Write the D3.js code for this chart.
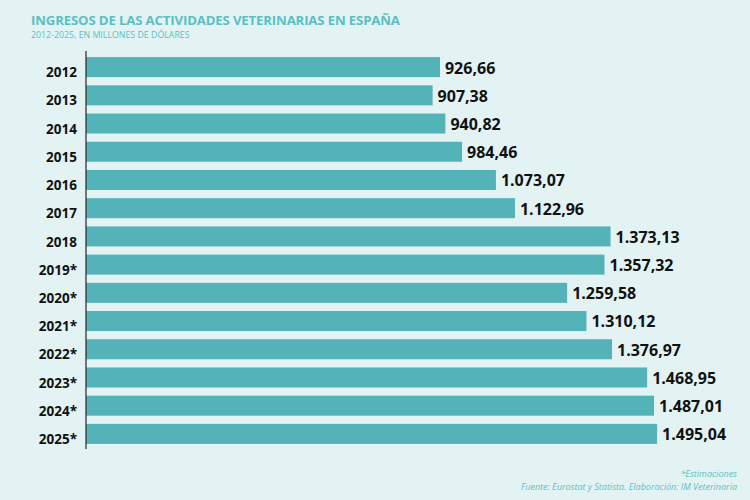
<!DOCTYPE html>
<html>
<head>
<meta charset="utf-8">
<script src="https://cdn.jsdelivr.net/npm/d3@7"></script>
<style>
  body { margin: 0; background: #e3f3f4; }
  text { font-family: "Open Sans", sans-serif; }
</style>
</head>
<body>
<div id="chart"></div>
<script>
// chart data
const years = ["2012", "2013", "2014", "2015", "2016", "2017", "2018",
    "2019*", "2020*", "2021*", "2022*", "2023*", "2024*", "2025*"];
const ingresos = [926.66, 907.38, 940.82, 984.46, 1073.07, 1122.96, 1373.13,
    1357.32, 1259.58, 1310.12, 1376.97, 1468.95, 1487.01, 1495.04];

const width = 750, height = 500;
const teal = "#5bbfc3";
const barColor = "#53b3b9";

const svg = d3.select("#chart").append("svg")
    .attr("width", width)
    .attr("height", height)
    .style("background", "#e3f3f4");

// title
svg.append("text")
    .attr("x", 31).attr("y", 24.5)
    .style("font-size", "13.2px").style("font-weight", "700")
    .style("letter-spacing", "-0.15px")
    .style("fill", teal)
    .text("INGRESOS DE LAS ACTIVIDADES VETERINARIAS EN ESPAÑA");
svg.append("text")
    .attr("x", 31).attr("y", 37.5)
    .style("font-size", "8.8px")
    .style("fill", teal)
    .text("2012-2025, EN MILLONES DE DÓLARES");

// scales
let x = d3.scaleLinear().domain([0, 1000]).range([86, 468]);
let y = d3.scaleBand().domain(years).range([53, 448])
    .paddingInner(0.29).paddingOuter(0.145);

// bars
svg.selectAll(".bar")
    .data(years)
    .enter().append("rect")
    .attr("class", "bar")
    .attr("x", x(0))
    .attr("y", (d) => y(d))
    .attr("width", (d, i) => x(ingresos[i]) - x(0))
    .attr("height", y.bandwidth())
    .style("fill", barColor);

// value labels
const fmt = d3.formatLocale({decimal: ",", thousands: ".", grouping: [3], currency: ["", ""]}).format(",.2f");
svg.selectAll(".val")
    .data(years)
    .enter().append("text")
    .attr("class", "val")
    .attr("x", (d, i) => x(ingresos[i]) + 5)
    .attr("y", (d) => y(d) + y.bandwidth() / 2)
    .attr("dy", "0.4em")
    .style("font-size", "16px").style("font-weight", "700")
    .style("fill", "#111")
    .text((d, i) => fmt(ingresos[i]));

// y axis (labels sit a little below the bar centre, as in the original)
const yAxis = svg.append("g")
    .attr("class", "y axis")
    .attr("transform", "translate(" + x(0) + ",0)")
    .call(d3.axisLeft(y).tickSize(0).tickPadding(9));
yAxis.select(".domain").attr("d", "M0,51V449").style("stroke", "#333").style("stroke-width", 1.3);
yAxis.selectAll("text")
    .style("font-family", "'Open Sans', sans-serif")
    .style("font-size", "13.5px").style("font-weight", "700")
    .style("fill", "#111")
    .attr("dy", "0.75em");

// footer
svg.append("text")
    .attr("x", 737).attr("y", 477)
    .attr("text-anchor", "end")
    .style("font-size", "9px").style("font-style", "italic")
    .style("fill", teal)
    .text("*Estimaciones");
svg.append("text")
    .attr("x", 737).attr("y", 490)
    .attr("text-anchor", "end")
    .style("font-size", "9px").style("font-style", "italic")
    .style("fill", teal)
    .text("Fuente: Eurostat y Statista. Elaboración: IM Veterinaria");
</script>
</body>
</html>
